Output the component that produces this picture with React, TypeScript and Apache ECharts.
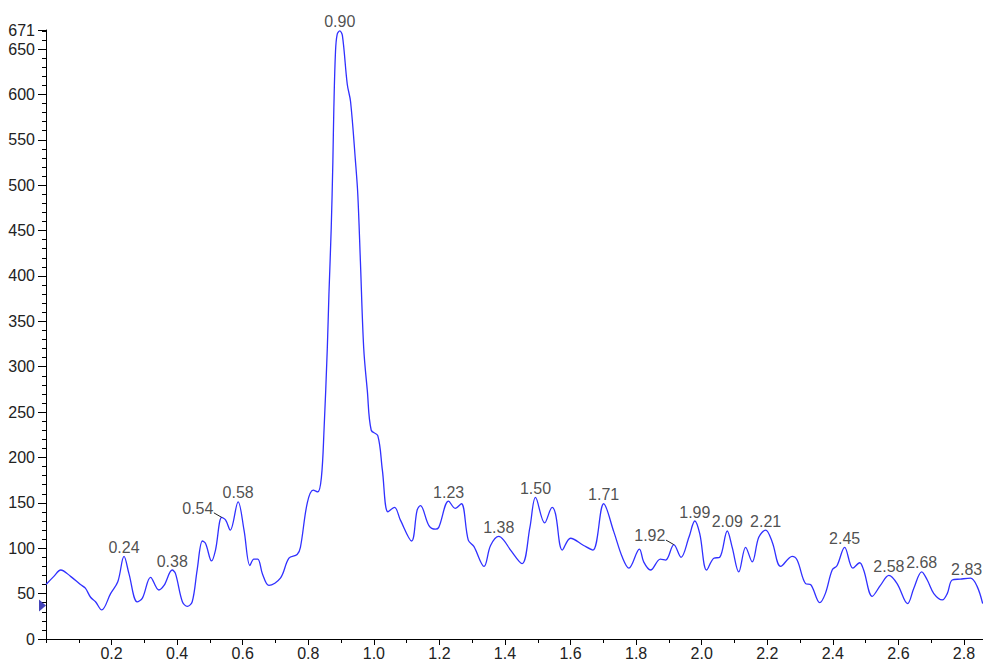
import React, { useEffect, useRef } from "react";
import * as echarts from "echarts";

// Curve samples (x, intensity)
const curveX = [
  0.0, 0.024, 0.045, 0.075, 0.105, 0.12, 0.136, 0.151, 0.17, 0.197, 0.219, 0.238, 0.253, 0.278, 0.294,
  0.319, 0.344, 0.36, 0.385, 0.395, 0.416, 0.431, 0.446, 0.461, 0.477, 0.487, 0.505, 0.517, 0.536, 0.548,
  0.562, 0.586, 0.604, 0.622, 0.634, 0.646, 0.66, 0.68, 0.715, 0.741, 0.766, 0.776, 0.797, 0.815, 0.829,
  0.84, 0.848, 0.858, 0.863, 0.87, 0.875, 0.878, 0.883, 0.888, 0.896, 0.904, 0.919, 0.929, 0.944, 0.951,
  0.959, 0.969, 0.98, 0.992, 1.012, 1.026, 1.043, 1.063, 1.081, 1.115, 1.132, 1.142, 1.168, 1.188, 1.198,
  1.228, 1.248, 1.267, 1.288, 1.305, 1.336, 1.356, 1.381, 1.396, 1.417, 1.452, 1.476, 1.493, 1.521, 1.544,
  1.554, 1.575, 1.6, 1.64, 1.668, 1.701, 1.732, 1.758, 1.778, 1.81, 1.823, 1.844, 1.874, 1.89, 1.915,
  1.937, 1.961, 1.979, 1.994, 2.015, 2.037, 2.055, 2.078, 2.093, 2.113, 2.134, 2.154, 2.174, 2.195, 2.215,
  2.241, 2.276, 2.291, 2.317, 2.332, 2.36, 2.377, 2.398, 2.413, 2.436, 2.461, 2.482, 2.494, 2.52, 2.545,
  2.571, 2.596, 2.628, 2.647, 2.671, 2.688, 2.708, 2.734, 2.749, 2.764, 2.789, 2.82, 2.84, 2.857,
];
const curveY = [
  60, 69, 76, 69, 60, 56, 46, 41, 32, 50, 63, 91, 72, 41, 45,
  68, 54, 59, 76, 72, 41, 36, 41, 76, 108, 105, 86, 98, 134, 131,
  120, 151, 120, 81, 88, 88, 72, 59, 67, 89, 93, 101, 150, 164, 162,
  178, 230, 320, 380, 453, 526, 585, 647, 666, 670, 665, 611, 592, 526, 490,
  416, 321, 274, 230, 224, 186, 140, 145, 131, 108, 142, 147, 125, 121, 123,
  152, 144, 149, 109, 102, 80, 103, 113, 109, 98, 83, 123, 156, 128, 145,
  138, 98, 111, 103, 98, 149, 118, 90, 78, 99, 85, 76, 88, 87, 104,
  90, 112, 130, 116, 76, 89, 90, 119, 101, 74, 101, 85, 112, 120, 107,
  80, 91, 87, 61, 60, 40, 50, 76, 81, 101, 78, 84, 76, 47, 59,
  70, 61, 39, 56, 74, 65, 50, 43, 50, 65, 66, 67, 58, 39,
];

// Peak annotations
const peakText = ["0.24", "0.38", "0.58", "0.90", "1.23", "1.38", "1.50", "1.71", "1.99", "2.09", "2.21", "2.45", "2.58", "2.68", "2.83"];
const peakX = [0.238, 0.385, 0.586, 0.896, 1.228, 1.381, 1.493, 1.701, 1.979, 2.078, 2.195, 2.436, 2.571, 2.671, 2.808];
const peakY = [91, 76, 151, 670, 152, 113, 156, 149, 130, 119, 120, 101, 70, 74, 67];

// Peaks whose labels are shifted left with a short leader line
const shiftedText = ["0.54", "1.92"];
const shiftedX = [0.536, 1.915];
const shiftedY = [134, 104];

const xMin = 0;
const xMax = 2.858;
const yMin = 0;
const yMax = 671;
const markerValue = 37;

// leader line extent (data units) and label shift (px)
const leaderDX = -0.024;
const leaderDY = 5;
const shiftPx = -24;

const FONT = '"Liberation Sans", Arial, Helvetica, sans-serif';
const TEXT = "#222";
const AXIS = "#000";
const LINE = "#3030ff";

export default function App() {
  const ref = useRef<HTMLDivElement>(null);

  useEffect(() => {
    if (!ref.current) return;
    const chart = echarts.init(ref.current, undefined, { renderer: "svg" });
    const labelStyle = { fontSize: 16, color: TEXT, fontFamily: FONT };
    const leaderSeries = shiftedX.map((x, i) => ({
      type: "line",
      data: [
        [x, shiftedY[i]],
        [x + leaderDX, shiftedY[i] + leaderDY],
      ],
      showSymbol: false,
      symbol: "none",
      lineStyle: { color: TEXT, width: 1 },
      silent: true,
      z: 3,
    }));
    chart.setOption({
      animation: false,
      backgroundColor: "#fff",
      grid: { left: 46, right: 0, top: 30, bottom: 22, outerBoundsMode: "none", containLabel: false },
      xAxis: [
        {
          type: "value",
          min: xMin,
          max: xMax,
          interval: 0.2,
          axisLine: { show: true, onZero: false, lineStyle: { color: AXIS, width: 1 } },
          axisTick: { show: true, length: 6, lineStyle: { color: AXIS } },
          splitLine: { show: false },
          axisLabel: {
            ...labelStyle,
            lineHeight: 14,
            margin: 7,
            showMinLabel: false,
            showMaxLabel: false,
            formatter: (v: number) => v.toFixed(1),
          },
        },
        {
          type: "value",
          min: xMin,
          max: xMax,
          interval: 0.1,
          position: "bottom",
          axisLine: { show: false },
          axisTick: { show: true, length: 4, lineStyle: { color: AXIS } },
          splitLine: { show: false },
          axisLabel: { show: false },
        },
      ],
      yAxis: [
        {
          type: "value",
          min: yMin,
          max: yMax,
          interval: 50,
          axisLine: { show: true, onZero: false, lineStyle: { color: AXIS, width: 1 } },
          axisTick: { show: true, length: 8, lineStyle: { color: AXIS } },
          splitLine: { show: false },
          axisLabel: {
            ...labelStyle,
            margin: 11,
            showMinLabel: true,
            showMaxLabel: true,
            formatter: (v: number) => String(Math.round(v)),
          },
        },
        {
          type: "value",
          min: yMin,
          max: yMax,
          interval: 10,
          position: "left",
          offset: 0,
          axisLine: { show: false },
          axisTick: { show: true, length: 4, lineStyle: { color: AXIS } },
          splitLine: { show: false },
          axisLabel: { show: false },
        },
      ],
      series: [
        {
          type: "line",
          data: curveX.map((x, i) => [x, curveY[i]]),
          showSymbol: false,
          smooth: 0.35,
          lineStyle: { color: LINE, width: 1.3 },
          itemStyle: { color: LINE },
          silent: true,
          z: 2,
        },
        {
          type: "scatter",
          data: peakX.map((x, i) => ({ value: [x, peakY[i]], name: peakText[i] })),
          symbolSize: 0,
          silent: true,
          z: 3,
          label: {
            show: true,
            position: "top",
            distance: 1,
            ...labelStyle,
            formatter: (p: any) => p.name,
          },
        },
        {
          type: "scatter",
          data: shiftedX.map((x, i) => ({ value: [x, shiftedY[i]], name: shiftedText[i] })),
          symbolSize: 0,
          silent: true,
          z: 3,
          label: {
            show: true,
            position: "top",
            distance: 1,
            offset: [shiftPx, 0],
            ...labelStyle,
            formatter: (p: any) => p.name,
          },
        },
        ...leaderSeries,
        {
          type: "scatter",
          data: [[xMin, markerValue]],
          symbol: "path://M0,0L7,6L0,12Z",
          symbolSize: [7, 12],
          symbolOffset: [-3.5, 0],
          itemStyle: { color: "#1414a8" },
          clip: false,
          silent: true,
          z: 4,
        },
      ],
    });
    return () => chart.dispose();
  }, []);

  return <div ref={ref} style={{ width: 983, height: 661, position: "absolute", left: 0, top: 0 }} />;
}
